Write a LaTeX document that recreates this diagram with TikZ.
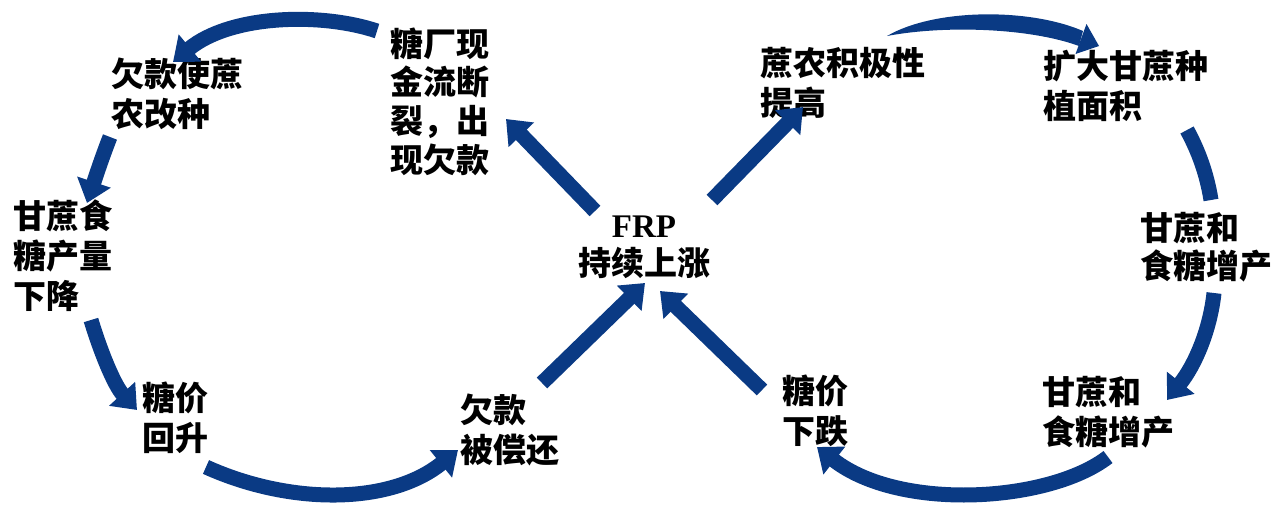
\documentclass[tikz,border=0pt]{standalone}
\usepackage{fontspec}
\setmainfont{Liberation Serif}
\newfontfamily\cjk{Noto Sans CJK SC}
\usetikzlibrary{arrows.meta}
\definecolor{navy}{RGB}{10,58,132}
\begin{document}
\begin{tikzpicture}[x=0.5pt,y=-0.5pt,
  lbl/.style={anchor=base west, inner sep=0pt, align=left, font=\cjk\bfseries\fontsize{16.5}{20}\selectfont},
  flow/.style={draw=navy, line width=7.5pt, -{Triangle[width=17pt,length=11pt]}},
  band/.style={draw=navy, line width=7.5pt}]
\useasboundingbox (0,0) rectangle (1274,504);
% labels (anchored at the baseline of the last line)
\node[lbl, font=\cjk\bfseries\fontsize{16.5}{19.3}\selectfont] (n1) at (390,172) {糖厂现\\金流断\\裂，出\\现欠款};
\node[lbl] (n2) at (111,126) {欠款使蔗\\农改种};
\node[lbl] (n3) at (13,308) {甘蔗食\\糖产量\\下降};
\node[lbl] (n4) at (142,450) {糖价\\回升};
\node[lbl] (n5) at (460,462) {欠款\\被偿还};
\node[anchor=base, inner sep=0pt, align=center, font=\cjk\bfseries\fontsize{16.5}{19}\selectfont] (frp) at (644,275) {{\rmfamily\bfseries\fontsize{16.5}{19}\selectfont FRP}\\持续上涨};
\node[lbl] (n7) at (760,115) {蔗农积极性\\提高};
\node[lbl] (n8) at (1043,118) {扩大甘蔗种\\植面积};
\node[lbl, font=\cjk\bfseries\fontsize{16.5}{19}\selectfont] (n9) at (1140,278) {甘蔗和\\食糖增产};
\node[lbl] (n10) at (1042,444) {甘蔗和\\食糖增产};
\node[lbl] (n11) at (782,443) {糖价\\下跌};
% connector ends
\coordinate (a1) at (595,211); \coordinate (a2) at (506,119);
\coordinate (b1) at (712,200); \coordinate (b2) at (803,107);
\coordinate (c1) at (377,31);  \coordinate (c2) at (173,62);
\coordinate (d1) at (110,137); \coordinate (d2) at (87,203);
\coordinate (e1) at (91,320);  \coordinate (e2) at (137,410);
\coordinate (f1) at (206,467); \coordinate (f2) at (458,450);
\coordinate (g1) at (542,383); \coordinate (g2) at (645,283);
\coordinate (h1) at (762,390); \coordinate (h2) at (660,291);
\coordinate (i1) at (1108,457); \coordinate (i2) at (817,447);
\coordinate (j1) at (1214,293); \coordinate (j2) at (1167,400);
\coordinate (k1) at (1187,130); \coordinate (k2) at (1211,200);
% connectors
\draw[flow] (a1) -- (a2);
\draw[flow] (b1) -- (b2);
\draw[flow] (c1) .. controls (320,12) and (230,15) .. (c2);
\draw[flow] (d1) .. controls (101,160) and (94,182) .. (d2);
\draw[flow] (e1) .. controls (100,350) and (114,385) .. (e2);
\draw[flow] (f1) .. controls (290,505) and (390,505) .. (f2);
\draw[flow] (g1) -- (g2);
\draw[flow] (h1) -- (h2);
\draw[flow] (i1) .. controls (1050,502) and (900,512) .. (i2);
\draw[flow] (j1) .. controls (1210,330) and (1195,365) .. (j2);
\draw[band] (k1) .. controls (1199,152) and (1207,175) .. (k2);
% tapered top-right arrow
\fill[navy] (887,36) .. controls (935,8) and (1030,8) .. (1083,31) -- (1079,46) .. controls (1030,28) and (945,25) .. (887,36) -- cycle;
\fill[navy] (1086.5,24) -- (1099,46) -- (1075.5,54) -- cycle;
\end{tikzpicture}
\end{document}
